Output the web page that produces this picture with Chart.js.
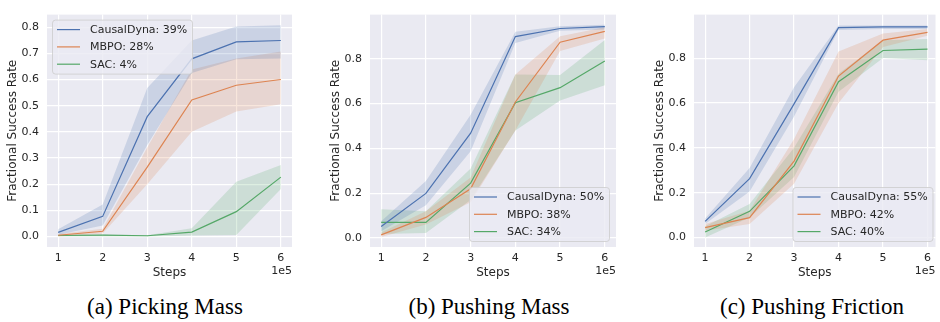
<!DOCTYPE html>
<html>
<head>
<meta charset="utf-8">
<script src="https://cdn.jsdelivr.net/npm/chart.js@4.4.1/dist/chart.umd.min.js"></script>
<style>
  html, body { margin: 0; padding: 0; background: #fff; }
  #wrap { position: relative; width: 940px; height: 322px; overflow: hidden; }
  canvas { position: absolute; top: 0; }
  .cap {
    position: absolute; top: 294px; width: 300px; text-align: center;
    font-family: "Liberation Serif", "Times New Roman", serif;
    font-size: 23px; line-height: 26px; color: #000;
  }
</style>
</head>
<body>
<div id="wrap">
  <canvas id="c1" width="310" height="290" style="left:0px"></canvas>
  <canvas id="c2" width="310" height="290" style="left:323px"></canvas>
  <canvas id="c3" width="289" height="290" style="left:647px"></canvas>
  <div class="cap" style="left:15px">(a) Picking Mass</div>
  <div class="cap" style="left:339px">(b) Pushing Mass</div>
  <div class="cap" style="left:662px">(c) Pushing Friction</div>
</div>
<script>
// x values are in units of 1e5 steps
const steps = [1, 2, 3, 4, 5, 6];
const xTicks = [1, 2, 3, 4, 5, 6];
const yTicksA = [0, 0.1, 0.2, 0.3, 0.4, 0.5, 0.6, 0.7, 0.8];
const yTicksBC = [0, 0.2, 0.4, 0.6, 0.8];

// (a) Picking Mass
const pickCausal   = [0.016, 0.077, 0.458, 0.679, 0.744, 0.749];
const pickCausalLo = [0.007, 0.042, 0.350, 0.625, 0.677, 0.680];
const pickCausalHi = [0.028, 0.122, 0.568, 0.749, 0.803, 0.807];
const pickMbpo     = [0.005, 0.020, 0.265, 0.522, 0.578, 0.600];
const pickMbpoLo   = [0.000, 0.012, 0.200, 0.400, 0.478, 0.505];
const pickMbpoHi   = [0.010, 0.030, 0.340, 0.638, 0.680, 0.707];
const pickSac      = [0.004, 0.005, 0.003, 0.017, 0.095, 0.227];
const pickSacLo    = [0.000, 0.000, 0.000, 0.004, 0.006, 0.182];
const pickSacHi    = [0.008, 0.008, 0.005, 0.032, 0.209, 0.273];
const pickLabels   = ['CausalDyna: 39%', 'MBPO: 28%', 'SAC: 4%'];

// (b) Pushing Mass
const pushCausal   = [0.051, 0.199, 0.468, 0.899, 0.935, 0.943];
const pushCausalLo = [0.030, 0.146, 0.387, 0.870, 0.925, 0.930];
const pushCausalHi = [0.075, 0.255, 0.550, 0.920, 0.945, 0.952];
const pushMbpo     = [0.014, 0.092, 0.220, 0.607, 0.874, 0.922];
const pushMbpoLo   = [0.005, 0.060, 0.160, 0.480, 0.835, 0.890];
const pushMbpoHi   = [0.025, 0.120, 0.270, 0.730, 0.900, 0.940];
const pushSac      = [0.070, 0.070, 0.245, 0.604, 0.671, 0.790];
const pushSacLo    = [0.018, 0.023, 0.170, 0.480, 0.614, 0.682];
const pushSacHi    = [0.129, 0.120, 0.310, 0.730, 0.728, 0.884];
const pushLabels   = ['CausalDyna: 50%', 'MBPO: 38%', 'SAC: 34%'];

// (c) Pushing Friction
const fricCausal   = [0.072, 0.263, 0.596, 0.936, 0.939, 0.939];
const fricCausalLo = [0.060, 0.205, 0.540, 0.925, 0.930, 0.930];
const fricCausalHi = [0.085, 0.310, 0.670, 0.945, 0.945, 0.945];
const fricMbpo     = [0.044, 0.089, 0.341, 0.720, 0.880, 0.915];
const fricMbpoLo   = [0.030, 0.060, 0.240, 0.600, 0.850, 0.900];
const fricMbpoHi   = [0.060, 0.120, 0.440, 0.830, 0.910, 0.930];
const fricSac      = [0.025, 0.117, 0.320, 0.695, 0.834, 0.840];
const fricSacLo    = [0.000, 0.090, 0.270, 0.650, 0.800, 0.790];
const fricSacHi    = [0.050, 0.150, 0.400, 0.730, 0.880, 0.885];
const fricLabels   = ['CausalDyna: 55%', 'MBPO: 42%', 'SAC: 40%'];

const BLUE = '#4C72B0', ORANGE = '#DD8452', GREEN = '#55A868';
const TEXT = '#262626';
const FONT = '"DejaVu Sans", sans-serif';

function pts(ys) {
    return ys.map(function (y, i) { return { x: steps[i], y: y }; });
}

function rgba(hex, a) {
    const n = parseInt(hex.slice(1), 16);
    return 'rgba(' + (n >> 16) + ',' + ((n >> 8) & 255) + ',' + (n & 255) + ',' + a + ')';
}

// band = lower + upper (filled to lower), then the mean line on top
function buildDatasets(series) {
    const ds = [];
    series.forEach(function (s) {
        ds.push({ data: pts(s.lo), borderWidth: 0, pointRadius: 0, fill: false, order: 2 });
        ds.push({ data: pts(s.hi), borderWidth: 0, pointRadius: 0, fill: '-1',
                  backgroundColor: rgba(s.color, 0.2), order: 2 });
        ds.push({ label: s.label, data: pts(s.mean), borderColor: s.color, borderWidth: 1.2,
                  pointRadius: 0, fill: false, order: 1 });
    });
    return ds;
}

const plotBackground = {
    id: 'plotBackground',
    beforeDraw(chart) {
        const a = chart.chartArea, ctx = chart.ctx;
        ctx.save();
        ctx.fillStyle = '#EAEAF2';
        ctx.fillRect(a.left, a.top, a.right - a.left, a.bottom - a.top);
        ctx.restore();
    }
};

// matplotlib-like legend inside the axes + the "1e5" offset text
const insideLegend = {
    id: 'insideLegend',
    afterDraw(chart, args, opts) {
        const ctx = chart.ctx, a = chart.chartArea;
        const items = chart.data.datasets.filter(function (d) { return d.label; });
        ctx.save();
        ctx.font = '11px ' + FONT;
        let maxW = 0;
        items.forEach(function (d) { maxW = Math.max(maxW, ctx.measureText(d.label).width); });
        const w = Math.round(38 + maxW + 5), h = 54;
        const x = opts.corner === 'ul' ? a.left + opts.dx : a.right - opts.dx - w;
        const y = opts.corner === 'ul' ? a.top + opts.dy : a.bottom - opts.dy - h;

        ctx.beginPath();
        ctx.roundRect(x + 0.5, y + 0.5, w, h, 3);
        ctx.fillStyle = 'rgba(234,234,242,0.8)';
        ctx.fill();
        ctx.strokeStyle = 'rgba(204,204,204,0.8)';
        ctx.lineWidth = 1;
        ctx.stroke();

        ctx.textBaseline = 'middle';
        items.forEach(function (d, i) {
            const cy = y + 10 + i * 17.3;
            ctx.strokeStyle = d.borderColor;
            ctx.lineWidth = 1.2;
            ctx.beginPath();
            ctx.moveTo(x + 5, cy);
            ctx.lineTo(x + 28, cy);
            ctx.stroke();
            ctx.fillStyle = TEXT;
            ctx.fillText(d.label, x + 38, cy + 0.5);
        });

        ctx.textAlign = 'right';
        ctx.fillText('1e5', a.right, 271);
        ctx.restore();
    }
};

function makeChart(id, series, yMin, yMax, yTicks, xMax, rightPad, legendOpts) {
    const ctx = document.getElementById(id).getContext('2d');
    return new Chart(ctx, {
        type: 'line',
        data: { datasets: buildDatasets(series) },
        plugins: [plotBackground, insideLegend],
        options: {
            responsive: false,
            animation: false,
            layout: { padding: { top: 3, right: rightPad, bottom: 0, left: 0 } },
            plugins: {
                legend: { display: false },
                tooltip: { enabled: false },
                insideLegend: legendOpts
            },
            scales: {
                x: {
                    type: 'linear',
                    min: 0.75,
                    max: xMax,
                    afterFit: function (scale) { scale.height = 43; },
                    afterBuildTicks: function (scale) {
                        scale.ticks = xTicks.map(function (v) { return { value: v }; });
                    },
                    grid: { color: '#ffffff', lineWidth: 1.2, drawTicks: false },
                    border: { display: false },
                    ticks: {
                        padding: 5,
                        color: TEXT,
                        font: { family: FONT, size: 11 },
                        maxRotation: 0,
                        callback: function (v) { return String(v); }
                    },
                    title: {
                        display: true,
                        text: 'Steps',
                        color: TEXT,
                        font: { family: FONT, size: 12 },
                        padding: { top: 0, bottom: 10 }
                    }
                },
                y: {
                    min: yMin,
                    max: yMax,
                    afterFit: function (scale) { scale.width = 47; },
                    afterBuildTicks: function (scale) {
                        scale.ticks = yTicks.map(function (v) { return { value: v }; });
                    },
                    grid: { color: '#ffffff', lineWidth: 1.2, drawTicks: false },
                    border: { display: false },
                    ticks: {
                        padding: 8,
                        color: TEXT,
                        font: { family: FONT, size: 11 },
                        callback: function (v) { return v.toFixed(1); }
                    },
                    title: {
                        display: true,
                        text: 'Fractional Success Rate',
                        color: TEXT,
                        font: { family: FONT, size: 12 },
                        padding: { top: 6, bottom: 0 }
                    }
                }
            }
        }
    });
}

document.addEventListener("DOMContentLoaded", function () {
    makeChart('c1', [
        { label: pickLabels[0], color: BLUE,   mean: pickCausal, lo: pickCausalLo, hi: pickCausalHi },
        { label: pickLabels[1], color: ORANGE, mean: pickMbpo,   lo: pickMbpoLo,   hi: pickMbpoHi },
        { label: pickLabels[2], color: GREEN,  mean: pickSac,    lo: pickSacLo,    hi: pickSacHi }
    ], -0.04, 0.848, yTicksA, 6.25, 18, { corner: 'ul', dx: 5, dy: 5 });

    makeChart('c2', [
        { label: pushLabels[0], color: BLUE,   mean: pushCausal, lo: pushCausalLo, hi: pushCausalHi },
        { label: pushLabels[1], color: ORANGE, mean: pushMbpo,   lo: pushMbpoLo,   hi: pushMbpoHi },
        { label: pushLabels[2], color: GREEN,  mean: pushSac,    lo: pushSacLo,    hi: pushSacHi }
    ], -0.04, 0.997, yTicksBC, 6.25, 17, { corner: 'lr', dx: 7, dy: 6 });

    makeChart('c3', [
        { label: fricLabels[0], color: BLUE,   mean: fricCausal, lo: fricCausalLo, hi: fricCausalHi },
        { label: fricLabels[1], color: ORANGE, mean: fricMbpo,   lo: fricMbpoLo,   hi: fricMbpoHi },
        { label: fricLabels[2], color: GREEN,  mean: fricSac,    lo: fricSacLo,    hi: fricSacHi }
    ], -0.042, 0.994, yTicksBC, 6.18, 0, { corner: 'lr', dx: 3, dy: 6 });
});
</script>
</body>
</html>
